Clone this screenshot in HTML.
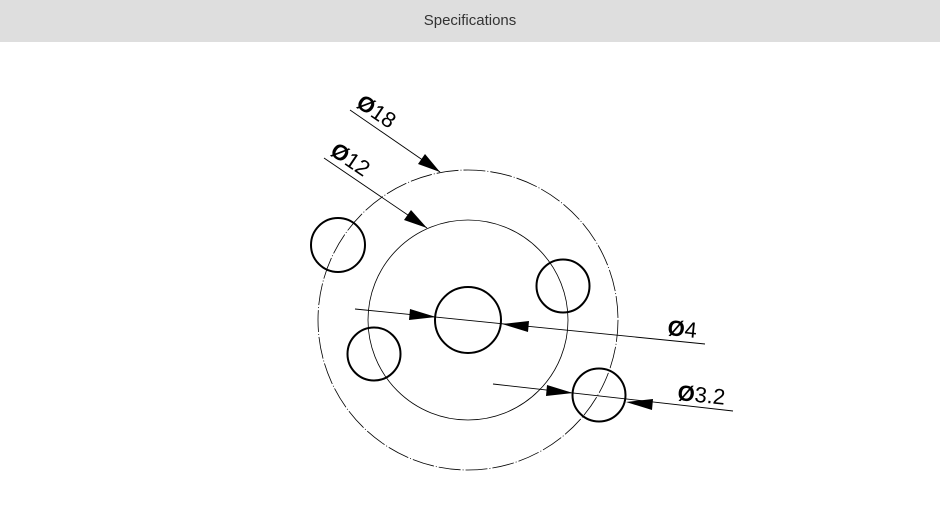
<!DOCTYPE html>
<html><head><style>
body{margin:0;width:940px;height:530px;background:#fff;overflow:hidden;font-family:"Liberation Sans",sans-serif}
.h{position:absolute;left:0;top:0;width:940px;height:42px;background:#dedede;text-align:center;line-height:42px;font-size:15px;color:#333}
svg{position:absolute;left:0;top:0}
</style></head><body>
<div class="h">Specifications</div>
<svg width="940" height="530" viewBox="0 0 940 530">
<g fill="none" stroke="#000">
<circle cx="468" cy="320" r="150" stroke-width="0.8" stroke-dasharray="22 2 1 2"/>
<circle cx="468" cy="320" r="100" stroke-width="0.8"/>
<g stroke-width="2">
<circle cx="468" cy="320" r="33"/>
<circle cx="338" cy="245" r="27"/>
<circle cx="563" cy="286" r="26.5"/>
<circle cx="374" cy="354" r="26.5"/>
<circle cx="599" cy="395" r="26.5"/>
</g>
<g stroke-width="0.9">
<line x1="350" y1="110" x2="440" y2="172"/>
<line x1="324" y1="158" x2="427" y2="228"/>
<line x1="355" y1="309" x2="705" y2="344"/>
<line x1="493" y1="384" x2="733" y2="411"/>
</g>
</g>
<g fill="#000">
<polygon points="440,172 418,164 425,154"/>
<polygon points="427,228 404,220 411,210"/>
<polygon points="436,317 409,320 410,309"/>
<polygon points="502,324 529,321 528,332"/>
<polygon points="573,393 546,396 547,385"/>
<polygon points="626,402 653,399 652,410"/>
</g>
<g font-family="Liberation Sans, DejaVu Sans, sans-serif" font-size="22" fill="#000">
<text transform="translate(355,106) rotate(34)"><tspan font-weight="bold">Ø</tspan>18</text>
<text transform="translate(329,154) rotate(34)"><tspan font-weight="bold">Ø</tspan>12</text>
<text transform="translate(667,335) rotate(5.7)"><tspan font-weight="bold">Ø</tspan>4</text>
<text transform="translate(677,400) rotate(5.7)"><tspan font-weight="bold">Ø</tspan>3.2</text>
</g>
</svg>
</body></html>
